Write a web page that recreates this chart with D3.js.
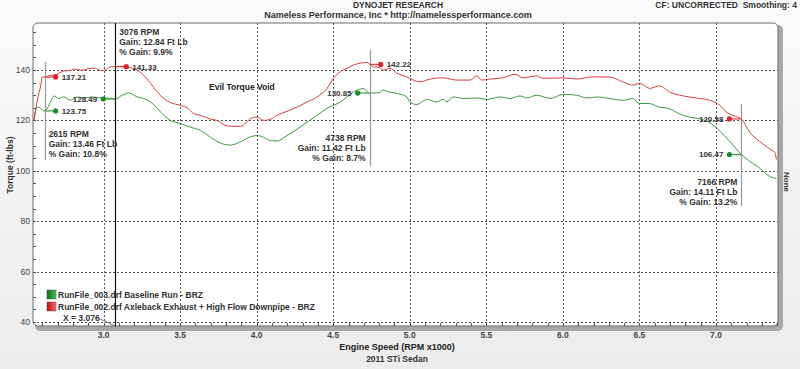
<!DOCTYPE html>
<html><head><meta charset="utf-8">
<script src="https://cdn.jsdelivr.net/npm/d3@7"></script>
<style>body{margin:0;background:#f1f1f1;} svg{display:block;}</style>
</head><body><svg id="c" width="800" height="369"></svg>
<script>
// ---------- data ----------
const baselineRpm = [2.545,2.567,2.589,2.615,2.654,2.676,2.708,2.741,2.785,2.828,2.871,2.926,2.992,3.046,3.076,3.122,3.165,3.22,3.261,3.307,3.35,3.393,3.437,3.502,3.568,3.633,3.698,3.763,3.828,3.894,3.959,4.003,4.046,4.089,4.133,4.198,4.264,4.329,4.394,4.459,4.546,4.59,4.633,4.696,4.738,4.80,4.826,4.87,4.916,4.981,5.0,5.046,5.111,5.176,5.218,5.242,5.283,5.348,5.438,5.503,5.59,5.655,5.72,5.764,5.829,5.916,6.001,6.09,6.155,6.22,6.307,6.392,6.457,6.498,6.563,6.628,6.693,6.758,6.824,6.889,6.954,7.02,7.085,7.166,7.215,7.28,7.345,7.395];
const baselineTorque = [120,125.3,124.8,123.75,127.3,129.7,128.7,129.3,128,129.3,128.9,129.3,128.9,128.8,128.49,130,130.9,129.3,128.7,127.3,124.8,122,120,118.7,117.3,116,113.3,111,110.2,111.5,113.5,114,113.3,112,111.8,114,116.5,119.3,122,124.8,127.3,129.3,131.3,132.6,130.85,131,132,131.2,130.7,129.3,127.3,126.3,128.3,127.3,128.4,127.3,129.3,128.7,128.9,128.3,129.3,128.7,129.7,128.9,130,128.7,130.3,130,128.9,129.3,128.7,128,128.7,126.7,126.7,125.3,124.7,122.7,121.3,120.7,119.3,116,112,106.47,104,101.3,98,96.9];
const modifiedRpm = [2.545,2.567,2.59,2.60,2.615,2.65,2.69,2.74,2.78,2.81,2.85,2.87,2.90,2.94,2.97,2.99,3.02,3.046,3.076,3.12,3.15,3.176,3.22,3.26,3.307,3.35,3.393,3.44,3.502,3.546,3.589,3.633,3.698,3.742,3.785,3.828,3.894,3.938,3.959,4.003,4.046,4.089,4.133,4.198,4.264,4.329,4.394,4.459,4.502,4.546,4.59,4.633,4.676,4.72,4.738,4.761,4.80,4.826,4.872,4.916,4.981,5.022,5.068,5.133,5.218,5.307,5.394,5.438,5.47,5.524,5.609,5.688,5.74,5.829,5.87,6.001,6.09,6.196,6.307,6.392,6.457,6.502,6.566,6.632,6.697,6.762,6.827,6.894,6.959,7.024,7.068,7.11,7.166,7.22,7.264,7.305,7.351,7.384,7.395];
const modifiedTorque = [120,128,134,137.3,137.21,137.8,138.2,139.6,139.8,140.4,139.9,140,140.5,140.7,140.1,139.7,140.4,141.3,141.33,141.5,141.2,140.9,140,138,134.7,131.3,128.7,127,126,125,122.7,122,120.5,120,118.3,117.7,117.6,119.5,120.7,121.3,120,120.4,122,123.6,125.3,127.3,129.3,132.7,136.7,139.3,140.7,142,142.7,143,142.22,141.3,141,140,140.7,138.7,137.3,136,135.3,136.4,136.9,136,136,137.7,136,136.4,136.9,138.3,136.9,137.7,136.7,136.9,136.4,137.3,137.2,135.3,134,134.7,132.7,133.7,131.3,130,129.3,128.7,128,126,123.3,122,120.58,115.3,112.7,110.7,108.7,107.3,104.5];

const xTicks = [3.0,3.5,4.0,4.5,5.0,5.5,6.0,6.5,7.0];
const yTicks = [40,60,80,100,120,140];

const markerRpm  = [2.615, 3.076, 4.738, 7.166];
const markerBase = [123.75, 128.49, 130.85, 106.47];
const markerMod  = [137.21, 141.33, 142.22, 120.58];
const markerGain = [13.46, 12.84, 11.42, 14.11];
const markerPct  = [10.8, 9.9, 8.7, 13.2];

const legendLabels = ["RunFile_003.drf Baseline Run - BRZ", "RunFile_002.drf Axleback Exhaust + High Flow Downpipe - BRZ"];
const seriesColors = ["#3f9a3f", "#d9403a"];
const dotColors = ["#1f8a2a", "#e0202a"];

// ---------- layout ----------
const svg = d3.select("#c");
const L = 33, R = 778, T = 23, B = 326;
const x = d3.scaleLinear().domain([2.539, 7.405]).range([L, R]);
const y = d3.scaleLinear().domain([40, 140]).range([322, 70]);
const narrow = "'Liberation Sans Narrow', 'Liberation Sans', Arial, sans-serif";
const sans = "'Liberation Sans', Arial, sans-serif";

const defs = svg.append("defs");
const bg = defs.append("linearGradient").attr("id","bg").attr("x1",0).attr("y1",0).attr("x2",0).attr("y2",1);
bg.append("stop").attr("offset","0%").attr("stop-color","#fbfbfb");
bg.append("stop").attr("offset","100%").attr("stop-color","#ececec");
svg.append("rect").attr("width",800).attr("height",369).attr("fill","url(#bg)");

const lg0 = defs.append("linearGradient").attr("id","lg0");
lg0.append("stop").attr("offset","0%").attr("stop-color","#0d6b1a");
lg0.append("stop").attr("offset","100%").attr("stop-color","#4fc35a");
const lg1 = defs.append("linearGradient").attr("id","lg1");
lg1.append("stop").attr("offset","0%").attr("stop-color","#b51010");
lg1.append("stop").attr("offset","100%").attr("stop-color","#ff6a6a");

defs.append("clipPath").attr("id","clip").append("rect").attr("x",L).attr("y",T).attr("width",R-L).attr("height",B-T);

// frame shadow + frame
svg.append("rect").attr("x",L+2).attr("y",T+2).attr("width",R-L+3).attr("height",B-T+3).attr("rx",5).attr("fill","#a8a8a8");
svg.append("rect").attr("x",L).attr("y",T).attr("width",R-L).attr("height",B-T).attr("rx",5).attr("fill","#fff").attr("stroke","#6d6d6d").attr("stroke-width",1);

// grid
const g = svg.append("g").attr("clip-path","url(#clip)");
g.selectAll(".hg").data(yTicks).enter().append("line")
  .attr("x1",L).attr("x2",R).attr("y1",d=>Math.round(y(d))+0.5).attr("y2",d=>Math.round(y(d))+0.5)
  .attr("stroke","#555").attr("stroke-dasharray","2,2");
g.selectAll(".vg").data(xTicks).enter().append("line")
  .attr("y1",T).attr("y2",B).attr("x1",d=>Math.round(x(d))+0.5).attr("x2",d=>Math.round(x(d))+0.5)
  .attr("stroke","#555").attr("stroke-dasharray","2,2");

// minor ticks
const yMinor = d3.range(40, 160, 5);
svg.append("g").selectAll("line").data(yMinor).enter().append("line")
  .attr("x1",L).attr("x2",L+3).attr("y1",d=>Math.round(y(d))+0.5).attr("y2",d=>Math.round(y(d))+0.5).attr("stroke","#555");
const xMinor = d3.range(26, 75).map(v=>v/10);
svg.append("g").selectAll("line").data(xMinor).enter().append("line")
  .attr("y1",B).attr("y2",B-3).attr("x1",d=>Math.round(x(d))+0.5).attr("x2",d=>Math.round(x(d))+0.5).attr("stroke","#555");

// tick labels
svg.append("g").selectAll("text").data(yTicks).enter().append("text")
  .attr("x",L-3).attr("y",d=>y(d)+3).attr("text-anchor","end")
  .attr("font-family",sans).attr("font-size","8.5px").attr("fill","#444").text(d=>d);
svg.append("g").selectAll("text").data(xTicks).enter().append("text")
  .attr("x",d=>x(d)).attr("y",338).attr("text-anchor","middle")
  .attr("font-family",narrow).attr("font-weight","bold").attr("font-size","8.5px").attr("fill","#444").text(d=>d.toFixed(1));

// axis titles
svg.append("text").attr("x",397).attr("y",350).attr("text-anchor","middle").attr("font-family",narrow)
  .attr("font-weight","bold").attr("font-size","9px").attr("fill","#222").text("Engine Speed (RPM x1000)");
svg.append("text").attr("x",397).attr("y",362).attr("text-anchor","middle").attr("font-family",narrow)
  .attr("font-weight","bold").attr("font-size","8.5px").attr("fill","#333").text("2011 STi Sedan");
svg.append("text").attr("transform","translate(13,165) rotate(-90)").attr("text-anchor","middle").attr("font-family",sans)
  .attr("font-weight","bold").attr("font-size","8.5px").attr("fill","#333").text("Torque (ft-lbs)");
svg.append("text").attr("transform","translate(784,182) rotate(90)").attr("text-anchor","middle").attr("font-family",sans)
  .attr("font-weight","bold").attr("font-size","8px").attr("fill","#333").text("None");

// titles
svg.append("text").attr("x",398).attr("y",8).attr("text-anchor","middle").attr("font-family",narrow)
  .attr("font-weight","bold").attr("font-size","8.5px").attr("fill","#333").text("DYNOJET RESEARCH");
svg.append("text").attr("x",398).attr("y",18).attr("text-anchor","middle").attr("font-family",narrow)
  .attr("font-weight","bold").attr("font-size","9px").attr("fill","#333").text("Nameless Performance, Inc * http://namelessperformance.com");
svg.append("text").attr("x",797).attr("y",8).attr("text-anchor","end").attr("font-family",narrow)
  .attr("font-weight","bold").attr("font-size","8.5px").attr("fill","#333").text("CF: UNCORRECTED\u00a0\u00a0Smoothing: 4");

// curves
const line = d3.line().x(d=>x(d[0])).y(d=>y(d[1])).curve(d3.curveMonotoneX);
const series = [d3.zip(baselineRpm, baselineTorque), d3.zip(modifiedRpm, modifiedTorque)];
g.selectAll(".curve").data(series).enter().append("path")
  .attr("d",line).attr("fill","none").attr("stroke",(d,i)=>seriesColors[i]).attr("stroke-width",1);

// annotation vertical lines
const vTop = [62, T, 50, 104], vBot = [160, B, 166, 206];
const vCol = ["#999", "#111", "#999", "#999"];
markerRpm.forEach((r,i)=>{
  svg.append("line").attr("x1",Math.round(x(r))+0.5).attr("x2",Math.round(x(r))+0.5).attr("y1",vTop[i]).attr("y2",vBot[i])
    .attr("stroke",vCol[i]).attr("stroke-width",1.2);
});

// markers: offsets (px) of dots from the vertical line for baseline / modified
const baseOff = [11, -12, -12, -12], modOff = [11, 11, 11, -12];
const ann = svg.append("g");
function marker(r, v, off, ci){
  const lx = x(r), dx = lx + off, dy = y(v);
  ann.append("line").attr("x1",lx).attr("x2",dx).attr("y1",dy).attr("y2",dy).attr("stroke",seriesColors[ci]).attr("stroke-width",1.2);
  ann.append("circle").attr("cx",dx).attr("cy",dy).attr("r",2.6).attr("fill",dotColors[ci]);
  ann.append("text").attr("x", off>0 ? dx+6 : dx-6).attr("y",dy+3).attr("text-anchor", off>0 ? "start":"end")
    .attr("font-family",sans).attr("font-weight","bold").attr("font-size","8px").attr("fill","#333").text(v.toFixed(2));
}
markerRpm.forEach((r,i)=>{ marker(r, markerBase[i], baseOff[i], 0); marker(r, markerMod[i], modOff[i], 1); });

// annotation text blocks
const txtY = [134, 32, 138, 182];
const txtSide = [1, 1, -1, -1];
markerRpm.forEach((r,i)=>{
  const lines = [Math.round(r*1000)+" RPM", "Gain: "+markerGain[i].toFixed(2)+" Ft Lb", "% Gain: "+markerPct[i].toFixed(1)+"%"];
  const tx = x(r) + 4*txtSide[i];
  lines.forEach((t,k)=>{
    ann.append("text").attr("x",tx).attr("y",txtY[i]+3+k*10).attr("text-anchor", txtSide[i]>0?"start":"end")
      .attr("font-family",sans).attr("font-weight","bold").attr("font-size","8.5px").attr("fill","#333").text(t);
  });
});

ann.append("text").attr("x",209).attr("y",90).attr("font-family",sans).attr("font-weight","bold")
  .attr("font-size","8.5px").attr("fill","#222").text("Evil Torque Void");

// legend
legendLabels.forEach((t,i)=>{
  const ly = 290 + i*12;
  svg.append("rect").attr("x",47).attr("y",ly).attr("width",9).attr("height",9).attr("fill","url(#lg"+i+")").attr("stroke","#555").attr("stroke-width",0.5);
  svg.append("text").attr("x",58).attr("y",ly+7.5).attr("font-family",narrow).attr("font-weight","bold")
    .attr("font-size","8.5px").attr("fill","#333").text(t);
});

// cursor readout
svg.append("text").attr("x",63).attr("y",321).attr("font-family",narrow).attr("font-weight","bold")
  .attr("font-size","8.5px").attr("fill","#333").text("X = " + markerRpm[1].toFixed(3));
svg.append("line").attr("x1",98).attr("y1",318).attr("x2",x(markerRpm[1])).attr("y2",326).attr("stroke","#555").attr("stroke-width",0.8);
</script></body></html>
